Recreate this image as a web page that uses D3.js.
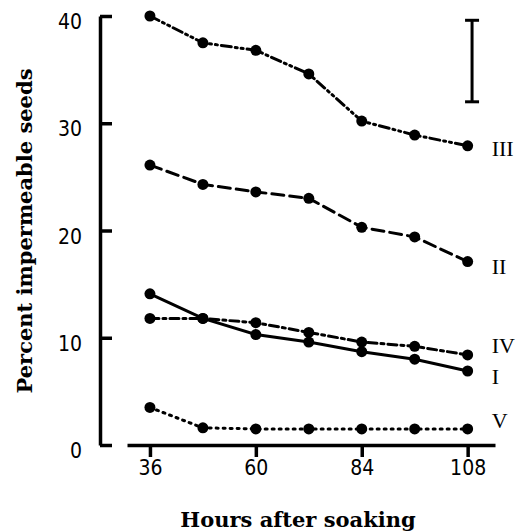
<!DOCTYPE html>
<html>
<head>
<meta charset="utf-8">
<script src="https://cdn.jsdelivr.net/npm/d3@7"></script>
<style>
  body { margin: 0; background: #fff; }
  .axis text { font-family: "Liberation Sans Narrow", "DejaVu Sans Condensed", sans-serif; font-size: 21px; fill: #000; }
  .title { font-family: "DejaVu Serif", serif; font-weight: bold; font-size: 21px; }
  .lab { font-family: "Liberation Serif", serif; font-size: 22px; }
</style>
</head>
<body>
<svg id="chart" width="525" height="532"></svg>
<script>
var hours = [36, 48, 60, 72, 84, 96, 108];
var xTicks = [36, 60, 84, 108];
var yTicks = [0, 10, 20, 30, 40];

var seriesNames = ["I", "II", "III", "IV", "V"];
var seriesI   = [14.1, 11.8, 10.3, 9.6, 8.7, 8.0, 6.9];
var seriesII  = [26.1, 24.3, 23.6, 23.0, 20.3, 19.4, 17.1];
var seriesIII = [40.0, 37.5, 36.8, 34.6, 30.2, 28.9, 27.9];
var seriesIV  = [11.8, 11.8, 11.4, 10.5, 9.6, 9.2, 8.4];
var seriesV   = [3.5, 1.6, 1.5, 1.5, 1.5, 1.5, 1.5];
var labelY    = [6.4, 16.7, 27.7, 9.3, 2.3];   // where each label sits

// least significant difference bar
var errHour = 109, errLow = 32.0, errHigh = 39.6;

var dashes = ["none", "12,6", "10,4,2,4,2,4", "9,4,3,4", "2,5"];

var svg = d3.select("#chart");

var x = d3.scaleLinear().domain([30.8, 114.2]).range([127, 495]);
var y = d3.scaleLinear().domain([0, 40]).range([445, 16]);

var xAxis = svg.append("g")
    .attr("class", "axis")
    .attr("transform", "translate(0," + y(0) + ")")
    .call(d3.axisBottom(x).tickValues(xTicks).tickSize(12).tickSizeOuter(0).tickPadding(3));

var yAxis = svg.append("g")
    .attr("class", "axis")
    .attr("transform", "translate(100,0)")
    .call(d3.axisLeft(y).tickValues(yTicks).tickSize(-12).tickSizeOuter(0).tickPadding(18));

svg.selectAll(".axis path").attr("stroke", "#000").attr("stroke-width", 3.5);
svg.selectAll(".axis line").attr("stroke", "#000").attr("stroke-width", 3.5);
yAxis.selectAll("text").attr("dy", "0.6em");

var data = [seriesI, seriesII, seriesIII, seriesIV, seriesV];

var line = d3.line()
    .x(function(d, i) { return x(hours[i]); })
    .y(function(d) { return y(d); });

var grp = svg.selectAll(".series")
    .data(data)
    .enter().append("g")
    .attr("class", "series");

grp.append("path")
    .attr("d", line)
    .attr("fill", "none")
    .attr("stroke", "#000")
    .attr("stroke-width", 3)
    .attr("stroke-linecap", "round")
    .attr("stroke-dasharray", function(d, i) { return dashes[i]; });

grp.selectAll("circle")
    .data(function(d) { return d; })
    .enter().append("circle")
    .attr("cx", function(d, i) { return x(hours[i]); })
    .attr("cy", function(d) { return y(d); })
    .attr("r", 5.5)
    .attr("fill", "#000");

grp.append("text")
    .attr("class", "lab")
    .attr("x", x(108) + 24)
    .attr("y", function(d, i) { return y(labelY[i]); })
    .attr("dy", "0.35em")
    .text(function(d, i) { return seriesNames[i]; });

// error bar
var eb = svg.append("g").attr("stroke", "#000").attr("stroke-width", 3);
eb.append("line").attr("x1", x(errHour)).attr("x2", x(errHour)).attr("y1", y(errLow)).attr("y2", y(errHigh));
eb.append("line").attr("x1", x(errHour) - 7).attr("x2", x(errHour) + 7).attr("y1", y(errLow)).attr("y2", y(errLow));
eb.append("line").attr("x1", x(errHour) - 7).attr("x2", x(errHour) + 7).attr("y1", y(errHigh)).attr("y2", y(errHigh));

svg.append("text")
    .attr("class", "title")
    .attr("x", 298)
    .attr("y", 527)
    .attr("text-anchor", "middle")
    .text("Hours after soaking");

svg.append("text")
    .attr("class", "title")
    .attr("transform", "translate(32,231) rotate(-90)")
    .attr("text-anchor", "middle")
    .text("Percent impermeable seeds");
</script>
</body>
</html>
